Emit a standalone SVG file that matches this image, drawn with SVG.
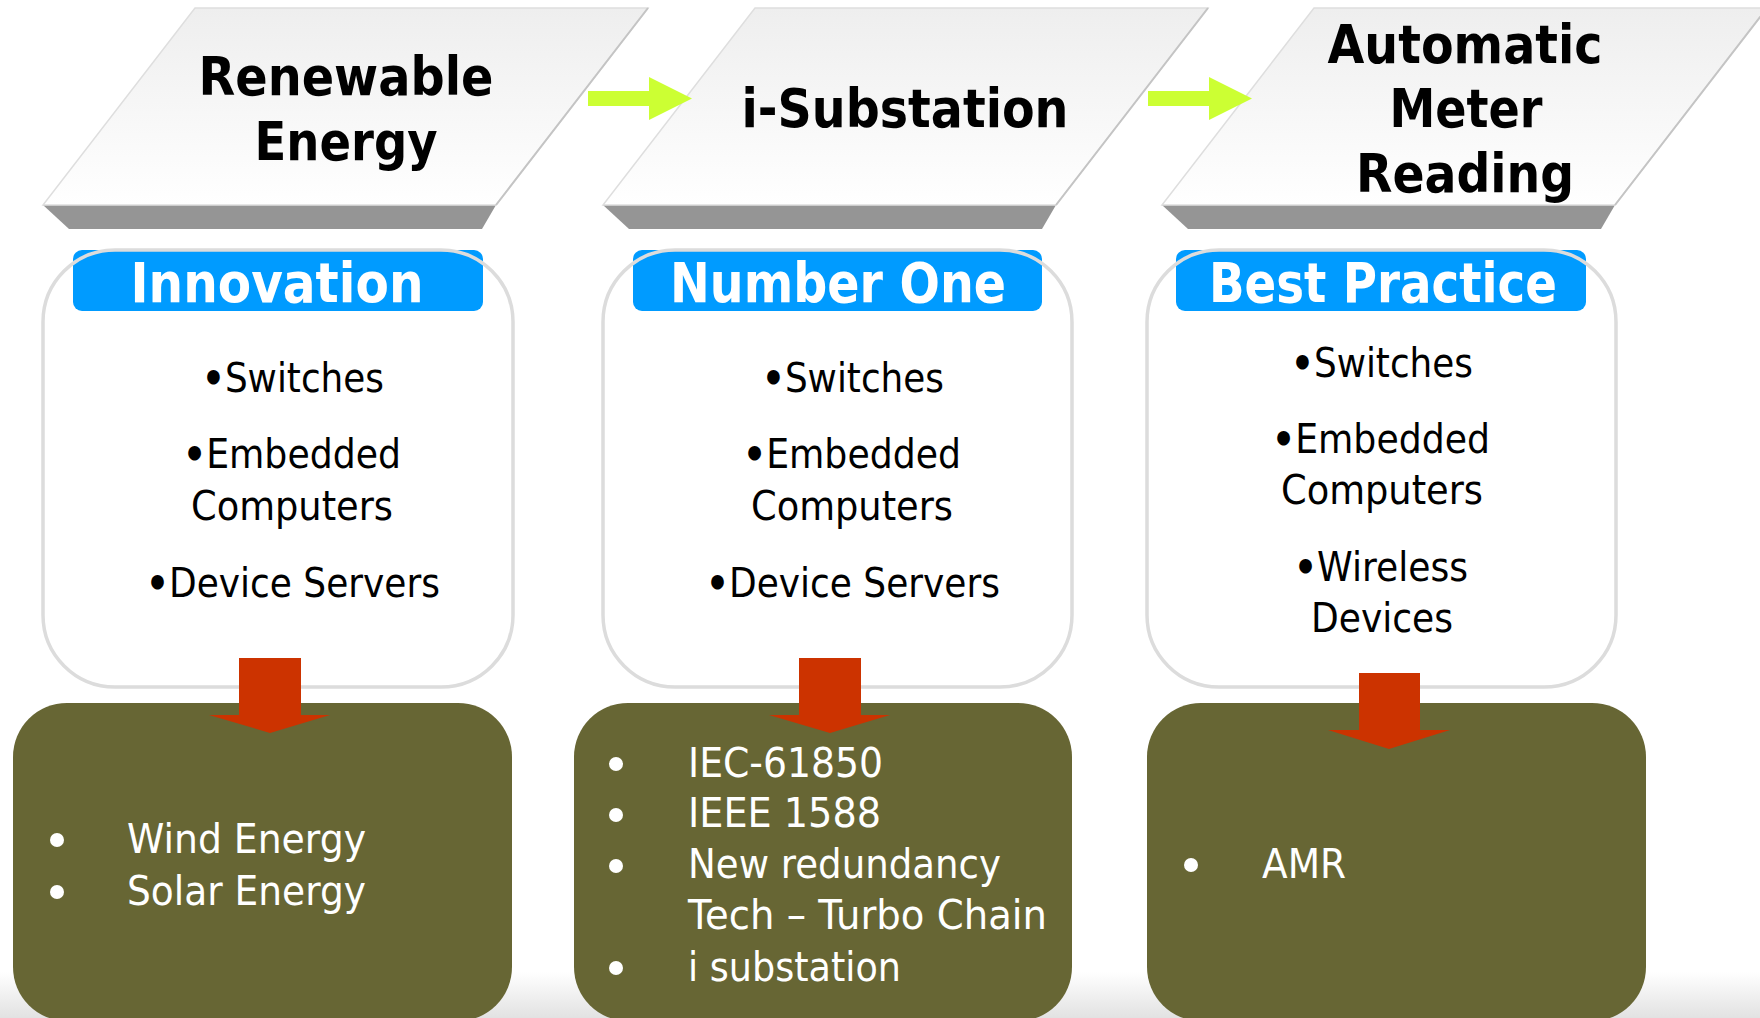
<svg xmlns="http://www.w3.org/2000/svg" width="1760" height="1018" viewBox="0 0 1760 1018">
<defs>
<linearGradient id="para" x1="0" y1="0" x2="0" y2="1">
<stop offset="0" stop-color="#eeeeee"/>
<stop offset="1" stop-color="#ffffff"/>
</linearGradient>
<linearGradient id="floor" x1="0" y1="0" x2="0" y2="1">
<stop offset="0" stop-color="#ffffff"/>
<stop offset="1" stop-color="#e2e2e2"/>
</linearGradient>
</defs>
<style>
.face{fill:url(#para);stroke:#dedede;stroke-width:1.5}
.edge{fill:none;stroke:#c4c4c4;stroke-width:2}
.band{fill:#959595}
.title{font-family:"DejaVu Sans",Verdana,sans-serif;font-weight:bold;font-size:53px;fill:#000;text-anchor:middle}
.wbox{fill:#fff}
.wstroke{fill:none;stroke:#dcdcdc;stroke-width:3.5}
.bar{fill:#009bff}
.label{font-family:"DejaVu Sans",Verdana,sans-serif;font-weight:bold;font-size:55px;fill:#fff;text-anchor:middle}
.body{font-family:"DejaVu Sans",Verdana,sans-serif;font-size:41px;fill:#000;text-anchor:middle}
.b{font-weight:bold}
.obox{fill:#676634}
.otext{font-family:"DejaVu Sans",Verdana,sans-serif;font-size:41px;fill:#fff}
.dot{fill:#fff}
.green{fill:#ccff33}
.red{fill:#cc3300}
</style>
<rect x="0" y="0" width="1760" height="1018" fill="#fff"/>
<rect x="0" y="972" width="1760" height="46" fill="url(#floor)"/>

<g id="stage1">
<polygon class="band" points="43,205 496,205 482,229 69,229"/>
<polygon class="face" points="195,8 648,8 496,205 43,205"/>
<line class="edge" x1="648" y1="8" x2="496" y2="205"/>
<text class="title" x="346" y="95" textLength="295" lengthAdjust="spacingAndGlyphs">Renewable</text>
<text class="title" x="346" y="160" textLength="183" lengthAdjust="spacingAndGlyphs">Energy</text>
</g>
<g id="stage2">
<polygon class="band" points="603,205 1056,205 1042,229 629,229"/>
<polygon class="face" points="755,8 1208,8 1056,205 603,205"/>
<line class="edge" x1="1208" y1="8" x2="1056" y2="205"/>
<text class="title" x="905" y="127" textLength="327" lengthAdjust="spacingAndGlyphs">i-Substation</text>
</g>
<g id="stage3">
<polygon class="band" points="1162,205 1615,205 1601,229 1188,229"/>
<polygon class="face" points="1314,8 1767,8 1615,205 1162,205"/>
<line class="edge" x1="1767" y1="8" x2="1615" y2="205"/>
<text class="title" x="1465" y="63" textLength="275" lengthAdjust="spacingAndGlyphs">Automatic</text>
<text class="title" x="1466" y="127" textLength="153" lengthAdjust="spacingAndGlyphs">Meter</text>
<text class="title" x="1465" y="192" textLength="218" lengthAdjust="spacingAndGlyphs">Reading</text>
</g>

<g id="box-innovation">
<rect class="wbox" x="43" y="250" width="470" height="437" rx="72"/>
<rect class="bar" x="73" y="250" width="410" height="61" rx="9"/>
<rect class="wstroke" x="43" y="250" width="470" height="437" rx="72"/>
<text class="label" x="277" y="302" textLength="293" lengthAdjust="spacingAndGlyphs">Innovation</text>
<text class="body" x="293" y="392" textLength="182" lengthAdjust="spacingAndGlyphs"><tspan class="b">•</tspan>Switches</text>
<text class="body" x="292" y="468" textLength="218" lengthAdjust="spacingAndGlyphs"><tspan class="b">•</tspan>Embedded</text>
<text class="body" x="292" y="520" textLength="202" lengthAdjust="spacingAndGlyphs">Computers</text>
<text class="body" x="293" y="597" textLength="294" lengthAdjust="spacingAndGlyphs"><tspan class="b">•</tspan>Device Servers</text>
</g>
<g id="box-numberone">
<rect class="wbox" x="603" y="250" width="469" height="437" rx="72"/>
<rect class="bar" x="633" y="250" width="409" height="61" rx="9"/>
<rect class="wstroke" x="603" y="250" width="469" height="437" rx="72"/>
<text class="label" x="838" y="302" textLength="336" lengthAdjust="spacingAndGlyphs">Number One</text>
<text class="body" x="853" y="392" textLength="182" lengthAdjust="spacingAndGlyphs"><tspan class="b">•</tspan>Switches</text>
<text class="body" x="852" y="468" textLength="218" lengthAdjust="spacingAndGlyphs"><tspan class="b">•</tspan>Embedded</text>
<text class="body" x="852" y="520" textLength="202" lengthAdjust="spacingAndGlyphs">Computers</text>
<text class="body" x="853" y="597" textLength="294" lengthAdjust="spacingAndGlyphs"><tspan class="b">•</tspan>Device Servers</text>
</g>
<g id="box-bestpractice">
<rect class="wbox" x="1147" y="250" width="469" height="437" rx="72"/>
<rect class="bar" x="1176" y="250" width="410" height="61" rx="9"/>
<rect class="wstroke" x="1147" y="250" width="469" height="437" rx="72"/>
<text class="label" x="1383" y="302" textLength="348" lengthAdjust="spacingAndGlyphs">Best Practice</text>
<text class="body" x="1382" y="377" textLength="182" lengthAdjust="spacingAndGlyphs"><tspan class="b">•</tspan>Switches</text>
<text class="body" x="1381" y="453" textLength="218" lengthAdjust="spacingAndGlyphs"><tspan class="b">•</tspan>Embedded</text>
<text class="body" x="1382" y="504" textLength="202" lengthAdjust="spacingAndGlyphs">Computers</text>
<text class="body" x="1381" y="581" textLength="174" lengthAdjust="spacingAndGlyphs"><tspan class="b">•</tspan>Wireless</text>
<text class="body" x="1382" y="632" textLength="142" lengthAdjust="spacingAndGlyphs">Devices</text>
</g>

<g id="out-renewable">
<rect class="obox" x="13" y="703" width="499" height="318" rx="54"/>
<circle class="dot" cx="57" cy="840" r="7"/>
<circle class="dot" cx="57" cy="892" r="7"/>
<text class="otext" x="127" y="853" textLength="239" lengthAdjust="spacingAndGlyphs">Wind Energy</text>
<text class="otext" x="127" y="905" textLength="239" lengthAdjust="spacingAndGlyphs">Solar Energy</text>
</g>
<g id="out-substation">
<rect class="obox" x="574" y="703" width="498" height="318" rx="54"/>
<circle class="dot" cx="616" cy="764" r="7"/>
<circle class="dot" cx="616" cy="815" r="7"/>
<circle class="dot" cx="616" cy="866" r="7"/>
<circle class="dot" cx="616" cy="968" r="7"/>
<text class="otext" x="688" y="777" textLength="195" lengthAdjust="spacingAndGlyphs">IEC-61850</text>
<text class="otext" x="688" y="827" textLength="193" lengthAdjust="spacingAndGlyphs">IEEE 1588</text>
<text class="otext" x="688" y="878" textLength="313" lengthAdjust="spacingAndGlyphs">New redundancy</text>
<text class="otext" x="688" y="929" textLength="359" lengthAdjust="spacingAndGlyphs">Tech – Turbo Chain</text>
<text class="otext" x="688" y="981" textLength="213" lengthAdjust="spacingAndGlyphs">i substation</text>
</g>
<g id="out-amr">
<rect class="obox" x="1147" y="703" width="499" height="318" rx="54"/>
<circle class="dot" cx="1191" cy="865" r="7"/>
<text class="otext" x="1262" y="878" textLength="84" lengthAdjust="spacingAndGlyphs">AMR</text>
</g>

<g id="connectors">
<polygon class="green" points="588,91 649,91 649,77 692,98.5 649,120 649,106 588,106"/>
<polygon class="green" points="1148,91 1209,91 1209,77 1252,98.5 1209,120 1209,106 1148,106"/>
<polygon class="red" points="239,658 301,658 301,715 330,715 270,733 209,715 239,715"/>
<polygon class="red" points="799,658 861,658 861,715 890,715 830,733 769,715 799,715"/>
<polygon class="red" points="1359,673 1420,673 1420,730 1450,730 1389,749 1328,730 1359,730"/>
</g>
</svg>
